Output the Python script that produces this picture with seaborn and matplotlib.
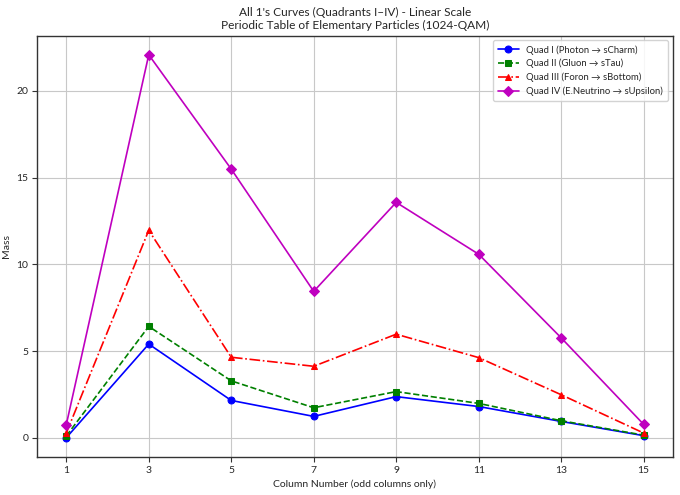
import matplotlib
matplotlib.use("Agg")
import matplotlib.pyplot as plt
import seaborn as sns
import pandas as pd

columns = [1, 3, 5, 7, 9, 11, 13, 15]
quad_1 = [0.0, 5.4, 2.15, 1.23, 2.37, 1.8, 0.94, 0.12]
quad_2 = [0.1, 6.42, 3.28, 1.73, 2.66, 1.98, 0.98, 0.15]
quad_3 = [0.27, 11.96, 4.64, 4.12, 5.97, 4.62, 2.48, 0.27]
quad_4 = [0.75, 22.08, 15.49, 8.44, 13.57, 10.58, 5.76, 0.77]

labels = [
    "Quad I (Photon → sCharm)",
    "Quad II (Gluon → sTau)",
    "Quad III (Foron → sBottom)",
    "Quad IV (E.Neutrino → sUpsilon)",
]

sns.set_style("ticks")
plt.rcParams["font.family"] = ["Lato", "DejaVu Sans"]

styles = [
    ("blue", "-", "o"),
    ("green", "--", "s"),
    ("red", "-.", "^"),
    ("m", "-", "D"),
]

fig, ax = plt.subplots(figsize=(6.8, 4.95), dpi=100)
for vals, label, (color, ls, mk) in zip([quad_1, quad_2, quad_3, quad_4], labels, styles):
    df = pd.DataFrame({"col": columns, "mass": vals})
    sns.lineplot(data=df, x="col", y="mass", ax=ax, color=color, linestyle=ls,
                 marker=mk, markersize=5, markeredgecolor=color, linewidth=1.2,
                 label=label)

ax.set_xticks(columns)
ax.set_xlabel("Column Number (odd columns only)", fontsize=7.5, labelpad=3)
ax.set_ylabel("Mass", fontsize=7.5, labelpad=4)
ax.tick_params(labelsize=7.5, length=3.5, width=0.8, pad=3, color="#333333")
ax.set_title("All 1's Curves (Quadrants I–IV) - Linear Scale\nPeriodic Table of Elementary Particles (1024-QAM)",
             fontsize=8.6, pad=5, linespacing=1.2)
ax.grid(True, color="#c8c8c8", linewidth=0.8)
for s in ax.spines.values():
    s.set_color("#333333")
    s.set_linewidth(1.0)
ax.legend(loc="upper right", fontsize=6.8, framealpha=0.85, handlelength=2.2,
          borderpad=0.5, labelspacing=0.45)

fig.subplots_adjust(left=0.055, right=0.989, top=0.928, bottom=0.077)
fig.savefig("out.png", dpi=100)
